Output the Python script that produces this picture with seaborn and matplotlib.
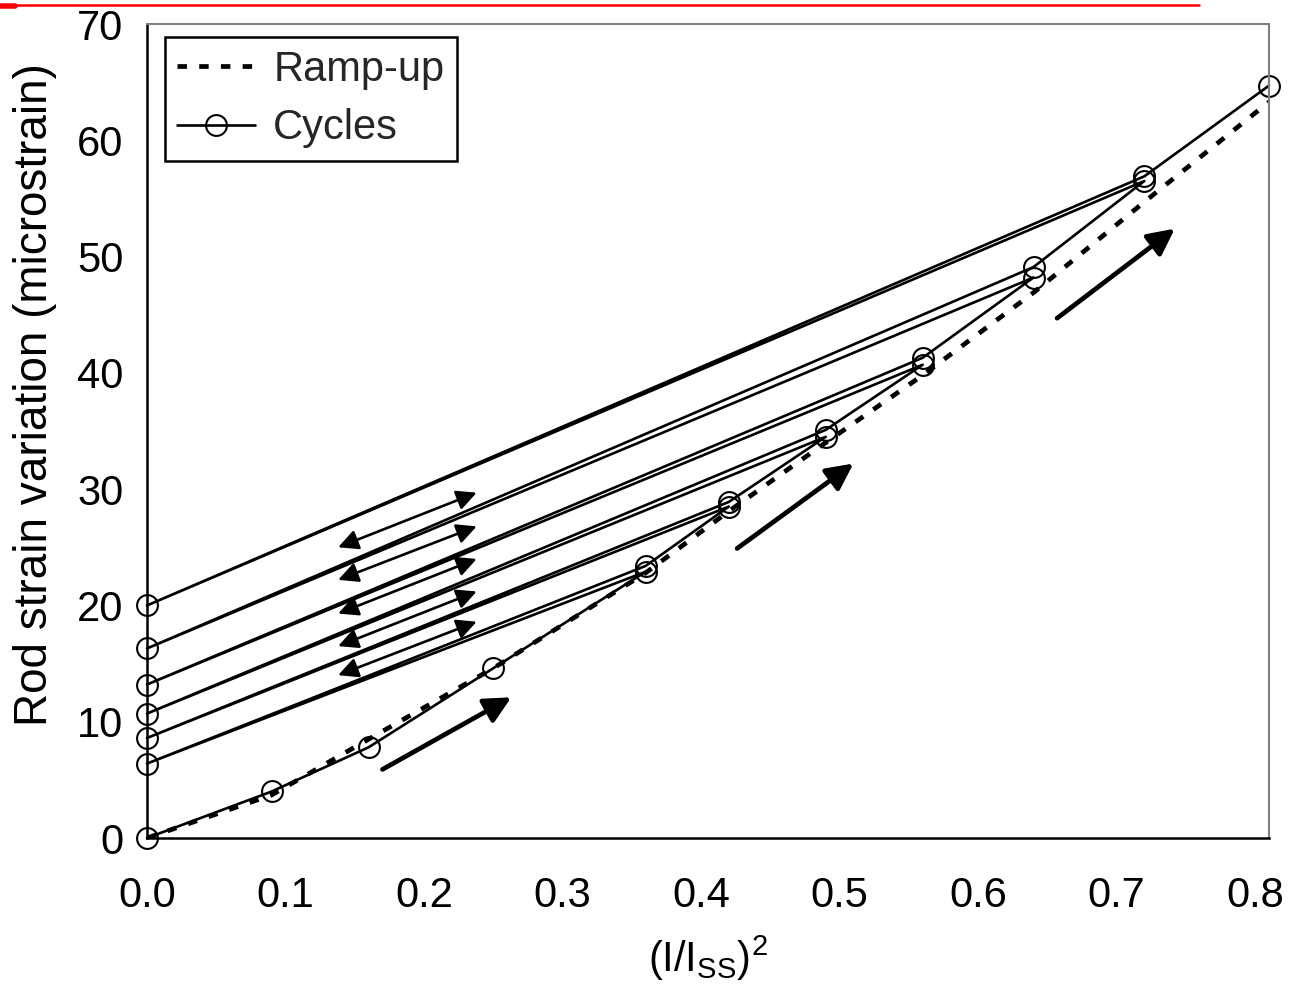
import numpy as np
import pandas as pd
import matplotlib
matplotlib.use("Agg")
import matplotlib.pyplot as plt
import seaborn as sns
from matplotlib.lines import Line2D

# ---------------- data ----------------
ramp_x = [0.0, 0.09, 0.16, 0.25, 0.36, 0.42, 0.49, 0.56, 0.64, 0.72, 0.81]
ramp_y = [0.0, 3.7, 8.5, 14.6, 22.8, 28.1, 34.0, 39.8, 46.9, 54.7, 63.3]

cycle_x = [0.0, 0.09, 0.16, 0.25,
           0.36, 0.0, 0.36,
           0.42, 0.0, 0.42,
           0.49, 0.0, 0.49,
           0.56, 0.0, 0.56,
           0.64, 0.0, 0.64,
           0.72, 0.0, 0.72,
           0.81]
cycle_y = [0.0, 4.0, 7.8, 14.6,
           22.9, 6.4, 23.4,
           28.5, 8.6, 28.9,
           34.5, 10.7, 35.1,
           40.7, 13.2, 41.3,
           48.2, 16.3, 49.1,
           56.5, 20.0, 56.9,
           64.7]

# annotation arrows (start, end) in data units
dir_arrows = [((0.170, 5.9), (0.263, 12.1)),
              ((0.426, 24.9), (0.510, 32.2)),
              ((0.657, 44.7), (0.742, 52.4))]
cycle_arrows = [((0.138, 25.0), (0.238, 29.7)),
                ((0.138, 22.2), (0.238, 26.8)),
                ((0.138, 19.3), (0.238, 24.0)),
                ((0.138, 16.5), (0.238, 21.2)),
                ((0.138, 14.0), (0.238, 18.6))]

x_ticks = [0.0, 0.1, 0.2, 0.3, 0.4, 0.5, 0.6, 0.7, 0.8]
x_ticklabels = ["0.0", "0.1", "0.2", "0.3", "0.4", "0.5", "0.6", "0.7", "0.8"]
y_ticks = [0, 10, 20, 30, 40, 50, 60, 70]

# ---------------- style ----------------
sns.set_theme(style="white")
plt.rcParams["font.family"] = ["Liberation Sans", "DejaVu Sans"]
plt.rcParams["mathtext.default"] = "regular"

fig = plt.figure(figsize=(12.89, 9.97), dpi=100)
ax = fig.add_axes([147 / 1289, 1 - 838 / 997, 1122 / 1289, 814 / 997])

ramp_df = pd.DataFrame({"x": ramp_x, "y": ramp_y})
cyc_df = pd.DataFrame({"x": cycle_x, "y": cycle_y})

sns.lineplot(data=ramp_df, x="x", y="y", sort=False, estimator=None, ax=ax,
             color="black", linewidth=3.4, linestyle=(0, (2.0, 2.6)),
             label="Ramp-up")
sns.lineplot(data=cyc_df, x="x", y="y", sort=False, estimator=None, ax=ax,
             color="black", linewidth=1.9, marker="o", markersize=15,
             markerfacecolor="none", markeredgecolor="black",
             markeredgewidth=1.5, label="Cycles", clip_on=False)

for (s, e) in dir_arrows:
    ax.annotate("", xy=e, xytext=s,
                arrowprops=dict(arrowstyle="-|>", lw=3.4, color="black",
                                mutation_scale=40, shrinkA=0, shrinkB=0))
for (s, e) in cycle_arrows:
    ax.annotate("", xy=e, xytext=s,
                arrowprops=dict(arrowstyle="<|-|>", lw=1.9, color="black",
                                mutation_scale=30, shrinkA=0, shrinkB=0))

ax.set_xlim(0, 0.81)
ax.set_ylim(0, 70)
ax.set_xticks(x_ticks)
ax.set_xticklabels(x_ticklabels)
ax.set_yticks(y_ticks)
ax.tick_params(axis="both", which="major", direction="out", length=10,
               width=1.5, color="black", labelsize=30, labelcolor="black")
ax.tick_params(axis="x", pad=17)
ax.tick_params(axis="y", pad=7)

for side in ["left", "bottom"]:
    ax.spines[side].set_color("black")
    ax.spines[side].set_linewidth(1.8)
for side in ["top", "right"]:
    ax.spines[side].set_color("#808080")
    ax.spines[side].set_linewidth(1.5)

ax.set_xlabel(r"(I/I$_{SS}$)$^{2}$", fontsize=30, color="black", labelpad=13)
ax.set_ylabel("Rod strain variation (microstrain)", fontsize=33, color="black")
ax.yaxis.set_label_coords(-0.080, 0.545)

handles = [Line2D([], [], color="black", linewidth=3.4, linestyle=(0, (2.0, 2.6))),
           Line2D([], [], color="black", linewidth=1.9, marker="o", markersize=15,
                  markerfacecolor="none", markeredgecolor="black", markeredgewidth=1.5)]
leg = ax.legend(handles, ["Ramp-up", "Cycles"], loc="upper left",
                bbox_to_anchor=(0.016, 0.984), borderaxespad=0, fontsize=30,
                frameon=True, fancybox=False, framealpha=1, edgecolor="black",
                handlelength=1.85, handletextpad=0.45, borderpad=0.3,
                labelspacing=0.45)
leg.get_frame().set_linewidth(1.8)

# decorative red rule at the top of the page
fig.add_artist(Line2D([0, 0.93], [0.995, 0.995], color="red", linewidth=1.8,
                      transform=fig.transFigure))
fig.add_artist(Line2D([0, 0.012], [0.994, 0.994], color="red", linewidth=4,
                      transform=fig.transFigure))

fig.savefig("out.png", dpi=100)
